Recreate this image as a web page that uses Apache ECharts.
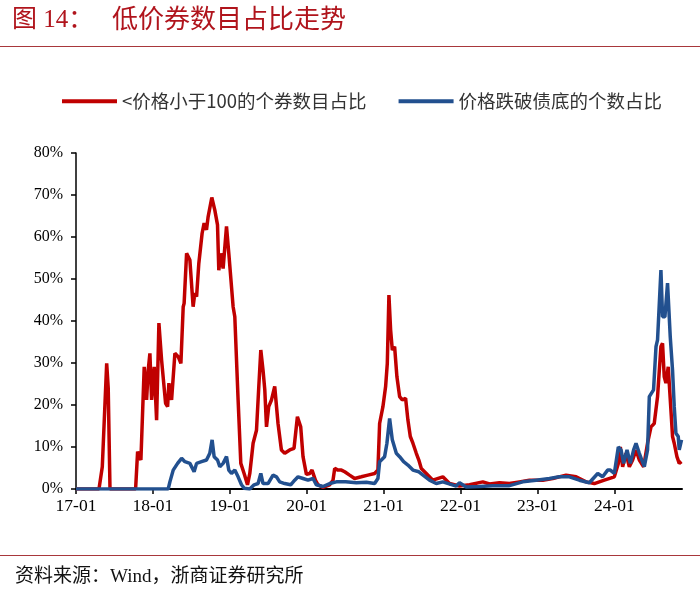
<!DOCTYPE html>
<html>
<head>
<meta charset="utf-8">
<script src="https://cdn.jsdelivr.net/npm/echarts@6/dist/echarts.min.js"></script>
<style>
  html, body { margin: 0; padding: 0; background: #fff; }
  #chart { width: 700px; height: 598px; }
</style>
</head>
<body>
<div id="chart"></div>
<script>
// x = time in decimal years, y = share in %
const tickYears = [2017, 2018, 2019, 2020, 2021, 2022, 2023, 2024];
const yTicks = [0, 10, 20, 30, 40, 50, 60, 70, 80];
const seriesNames = ['<价格小于100的个券数目占比', '价格跌破债底的个数占比'];

const redPoints = [
  [2017.000, 0], [2017.299, 0], [2017.342, 5.3], [2017.399, 29.9], [2017.419, 24], [2017.442, 0],
  [2017.775, 0], [2017.801, 8.9], [2017.844, 6.9], [2017.887, 29.1], [2017.918, 21.2], [2017.939, 28.3],
  [2017.961, 32.3], [2017.983, 21.2], [2018.017, 29.1], [2018.048, 16.4], [2018.078, 39.5], [2018.113, 30.7],
  [2018.165, 20.4], [2018.191, 19.6], [2018.208, 25.2], [2018.243, 21.2], [2018.286, 32.3], [2018.329, 31.5],
  [2018.364, 29.9], [2018.394, 43.4], [2018.406, 44.2], [2018.438, 56.1], [2018.481, 54.5], [2018.523, 43.4],
  [2018.545, 46.6], [2018.568, 45.8], [2018.597, 53.7], [2018.640, 60.9], [2018.666, 63.3], [2018.697, 61.7],
  [2018.718, 64.8], [2018.766, 69.4], [2018.805, 66.4], [2018.840, 62.9], [2018.857, 52.1], [2018.883, 56.1],
  [2018.913, 52.5], [2018.957, 62.5], [2018.987, 56.1], [2019.043, 43.4], [2019.065, 41], [2019.108, 21.2],
  [2019.143, 6.1], [2019.186, 3.7], [2019.230, 1], [2019.260, 3.7], [2019.303, 10.9], [2019.347, 14],
  [2019.377, 24.4], [2019.403, 33.1], [2019.432, 28.3], [2019.455, 23.6], [2019.477, 14.8], [2019.506, 19.6],
  [2019.542, 21.2], [2019.584, 24.4], [2019.627, 15.6], [2019.671, 9.3], [2019.714, 8.5], [2019.779, 9.3],
  [2019.835, 9.7], [2019.879, 17.2], [2019.922, 14.8], [2019.952, 7.7], [2019.996, 3.5], [2020.039, 3.7],
  [2020.069, 4.5], [2020.113, 2.1], [2020.147, 1], [2020.212, 0.4], [2020.299, 1], [2020.342, 2.1],
  [2020.364, 4.9], [2020.406, 4.5], [2020.451, 4.5], [2020.494, 4.1], [2020.558, 3.3], [2020.623, 2.5],
  [2020.710, 2.9], [2020.796, 3.3], [2020.883, 3.7], [2020.926, 4.5], [2020.948, 15.6], [2020.991, 19.6],
  [2021.026, 24.4], [2021.048, 29.9], [2021.069, 46.2], [2021.091, 37.9], [2021.113, 33.1], [2021.143, 33.9],
  [2021.173, 26.7], [2021.208, 22], [2021.243, 21.2], [2021.286, 21.6], [2021.316, 16.4], [2021.347, 12.5],
  [2021.381, 10.9], [2021.425, 8.5], [2021.458, 6.9], [2021.490, 4.9], [2021.555, 3.7], [2021.640, 2.1],
  [2021.770, 2.9], [2021.857, 1.3], [2021.987, 0.7], [2022.117, 1], [2022.290, 1.7], [2022.377, 1.2],
  [2022.506, 1.5], [2022.636, 1.3], [2022.766, 1.7], [2022.896, 2.1], [2023.069, 2.1], [2023.199, 2.5],
  [2023.373, 3.3], [2023.503, 2.9], [2023.632, 1.7], [2023.740, 1.3], [2023.870, 2.1], [2024.000, 2.9],
  [2024.052, 6.1], [2024.078, 10], [2024.108, 5.3], [2024.152, 8.5], [2024.195, 5.3], [2024.238, 6.9],
  [2024.282, 9.3], [2024.325, 6.9], [2024.381, 5.3], [2024.432, 10.9], [2024.477, 14.8], [2024.519, 15.6],
  [2024.562, 22], [2024.606, 33.9], [2024.627, 34.7], [2024.649, 26.7], [2024.671, 25.2], [2024.701, 29.1],
  [2024.736, 18.8], [2024.757, 12.5], [2024.779, 10.9], [2024.814, 7.7], [2024.844, 6.1], [2024.874, 6.5]
];

const bluePoints = [
  [2017.000, 0], [2018.199, 0], [2018.221, 1.7], [2018.264, 4.5], [2018.321, 6.1], [2018.373, 7.3],
  [2018.416, 6.5], [2018.481, 6.1], [2018.536, 4.1], [2018.568, 6.1], [2018.632, 6.5], [2018.697, 6.9],
  [2018.740, 8.5], [2018.770, 11.7], [2018.796, 7.7], [2018.840, 6.9], [2018.870, 5.3], [2018.913, 6.1],
  [2018.957, 7.7], [2018.987, 4.5], [2019.022, 3.7], [2019.065, 4.5], [2019.108, 2.9], [2019.152, 1],
  [2019.186, 0.2], [2019.260, 0], [2019.316, 1], [2019.368, 1.3], [2019.403, 3.7], [2019.432, 1.3],
  [2019.497, 1.3], [2019.562, 3.3], [2019.606, 2.9], [2019.649, 1.7], [2019.714, 1.3], [2019.792, 1],
  [2019.844, 2.1], [2019.887, 2.9], [2019.952, 2.5], [2020.017, 2.1], [2020.082, 2.5], [2020.126, 1],
  [2020.212, 0.6], [2020.299, 1.3], [2020.386, 1.7], [2020.506, 1.7], [2020.645, 1.5], [2020.775, 1.6],
  [2020.883, 1.3], [2020.926, 2.5], [2020.948, 6.5], [2021.013, 7.7], [2021.043, 10.9], [2021.078, 16.8],
  [2021.113, 11.7], [2021.165, 8.5], [2021.208, 7.7], [2021.260, 6.5], [2021.316, 5.7], [2021.381, 4.5],
  [2021.458, 4.1], [2021.597, 2.1], [2021.684, 1.3], [2021.770, 1.7], [2021.944, 0.7], [2021.987, 1.5],
  [2022.074, 0.5], [2022.247, 0.6], [2022.419, 0.8], [2022.636, 0.8], [2022.809, 1.7], [2022.983, 2.1],
  [2023.156, 2.5], [2023.286, 2.9], [2023.416, 2.9], [2023.545, 2.1], [2023.675, 1.5], [2023.784, 3.7],
  [2023.848, 2.9], [2023.913, 4.5], [2023.948, 4.5], [2024.000, 3.7], [2024.052, 10], [2024.087, 9.3],
  [2024.121, 6.1], [2024.165, 9.3], [2024.208, 6.1], [2024.251, 9.3], [2024.282, 10.9], [2024.325, 8.5],
  [2024.390, 5.3], [2024.432, 9.3], [2024.455, 22], [2024.510, 23.6], [2024.542, 33.9], [2024.562, 35.5],
  [2024.606, 52.1], [2024.627, 41], [2024.658, 41], [2024.692, 49], [2024.727, 36.3], [2024.757, 28.3],
  [2024.779, 19.6], [2024.801, 13.3], [2024.831, 12.5], [2024.844, 9.3], [2024.874, 11.7]
];

const chart = echarts.init(document.getElementById('chart'), null, { renderer: 'canvas' });
const serif = '"Liberation Serif", "Times New Roman", "Noto Sans CJK SC", serif';
const cjk = '"Noto Sans CJK SC", "Microsoft YaHei", sans-serif';

const option = {
  animation: false,
  backgroundColor: '#ffffff',
  graphic: [
    { type: 'text', left: 12, top: 8, style: { text: '图 14：', font: '25px ' + serif, fill: '#B0141C' } },
    { type: 'text', left: 112, top: 8, style: { text: '低价券数目占比走势', font: '26px ' + serif, fill: '#B0141C' } },
    { type: 'line', shape: { x1: 0, y1: 46.5, x2: 700, y2: 46.5 }, style: { stroke: '#A8373B', lineWidth: 1.2 } },
    { type: 'line', shape: { x1: 0, y1: 555.5, x2: 700, y2: 555.5 }, style: { stroke: '#A8373B', lineWidth: 1.2 } },
    { type: 'text', left: 15, top: 568, style: { text: '资料来源：Wind，浙商证券研究所', font: '19px ' + serif, fill: '#111111' } }
  ],
  legend: {
    left: 62, top: 92, padding: 0,
    icon: 'rect', itemWidth: 55, itemHeight: 4, itemGap: 32,
    textStyle: { fontFamily: cjk, fontSize: 18.5, color: '#333333' },
    data: seriesNames
  },
  grid: { left: 76, right: 18, top: 153, bottom: 109 },
  xAxis: {
    type: 'value',
    min: 2017, max: 2024.88, interval: 1,
    splitLine: { show: false },
    axisLine: { show: true, onZero: false, lineStyle: { color: '#000', width: 2 } },
    axisTick: { show: true, length: 5, customValues: tickYears, lineStyle: { color: '#000', width: 1.5 } },
    axisLabel: {
      customValues: tickYears,
      formatter: v => String(Math.round(v)).slice(2) + '-01',
      fontFamily: serif, fontSize: 17.5, color: '#000', margin: 9
    }
  },
  yAxis: {
    type: 'value',
    min: 0, max: 80, interval: 10,
    splitLine: { show: false },
    axisLine: { show: true, lineStyle: { color: '#000', width: 1.5 } },
    axisTick: { show: true, length: 5, lineStyle: { color: '#000', width: 1.5 } },
    axisLabel: { formatter: '{value}%', fontFamily: serif, fontSize: 16, color: '#000', margin: 13 }
  },
  series: [
    {
      name: seriesNames[0], type: 'line', data: redPoints,
      showSymbol: false, symbol: 'none',
      lineStyle: { color: '#C00000', width: 3.5 }, itemStyle: { color: '#C00000' }, z: 2
    },
    {
      name: seriesNames[1], type: 'line', data: bluePoints,
      showSymbol: false, symbol: 'none',
      lineStyle: { color: '#22508F', width: 3.5 }, itemStyle: { color: '#22508F' }, z: 3
    }
  ]
};
chart.setOption(option);
</script>
</body>
</html>
